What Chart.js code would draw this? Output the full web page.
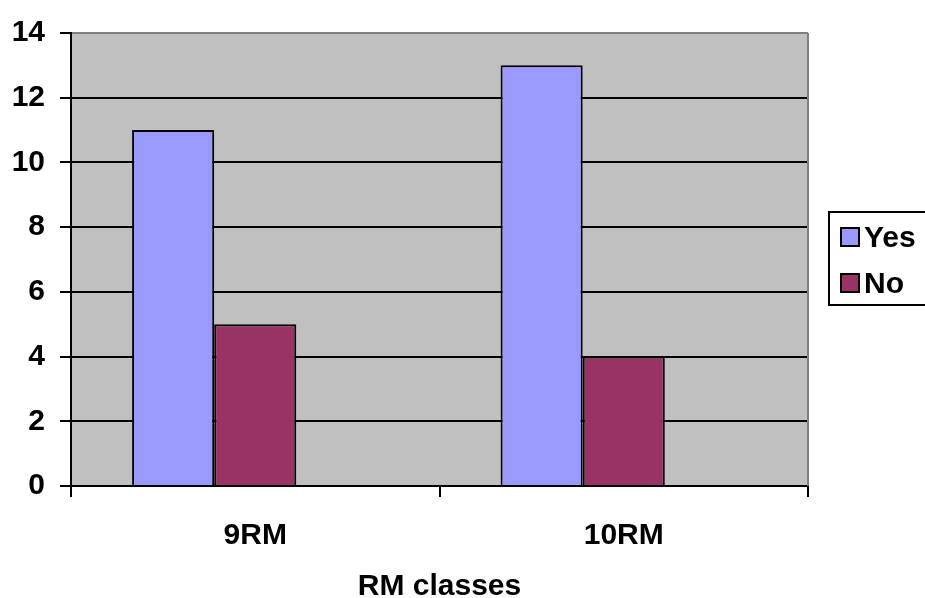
<!DOCTYPE html>
<html>
<head>
<meta charset="utf-8">
<script src="https://cdn.jsdelivr.net/npm/chart.js@4/dist/chart.umd.min.js"></script>
<style>
html,body{margin:0;padding:0;background:#fff;}
#wrap{width:925px;height:598px;position:relative;}
</style>
</head>
<body>
<div id="wrap"><canvas id="c" width="925" height="598"></canvas></div>
<script>
const categories = ["9RM", "10RM"];
const yesValues = [11, 13];
const noValues = [5, 4];
const emptySlot = [null, null];
const seriesNames = ["Yes", "No"];
const axisTitle = "RM classes";
const yTicks = [0, 2, 4, 6, 8, 10, 12, 14];

const FONT = '"Liberation Sans", Arial, sans-serif';

const bgPlugin = {
  id: 'bg',
  beforeDraw(chart) {
    const {ctx, chartArea: a} = chart;
    ctx.save();
    ctx.fillStyle = '#C0C0C0';
    ctx.fillRect(a.left, a.top, a.right - a.left, a.bottom - a.top);
    ctx.restore();
  },
  afterDraw(chart) {
    const {ctx, chartArea: a} = chart;
    ctx.save();
    ctx.strokeStyle = '#808080';
    ctx.lineWidth = 2;
    ctx.beginPath();
    ctx.moveTo(a.right, a.top);
    ctx.lineTo(a.right, a.bottom);
    ctx.stroke();
    // legend
    ctx.fillStyle = '#FFFFFF';
    ctx.strokeStyle = '#000000';
    ctx.lineWidth = 2;
    ctx.fillRect(829, 212, 110, 93);
    ctx.strokeRect(829, 212, 110, 93);
    chart.data.datasets.filter(ds => ds.label).forEach((ds, i) => {
      const y = 227 + i * 46;
      ctx.fillStyle = ds.backgroundColor;
      ctx.fillRect(841, y + 1, 18, 18);
      ctx.strokeRect(841, y + 1, 18, 18);
      ctx.fillStyle = '#000';
      ctx.font = 'bold 30px ' + FONT;
      ctx.textBaseline = 'middle';
      ctx.textAlign = 'left';
      ctx.fillText(ds.label, 864, y + 12);
    });
    ctx.restore();
  }
};

new Chart(document.getElementById('c'), {
  type: 'bar',
  data: {
    labels: categories,
    datasets: [
      { label: seriesNames[0], data: yesValues, backgroundColor: '#9999FF', borderColor: '#000', borderWidth: 2 },
      { label: seriesNames[1], data: noValues, backgroundColor: '#993366', borderColor: '#000', borderWidth: 2 },
      { label: '', data: emptySlot, backgroundColor: 'rgba(0,0,0,0)', borderWidth: 0 }
    ]
  },
  options: {
    responsive: false,
    animation: false,
    devicePixelRatio: 1,
    layout: { padding: { top: 32, right: 117, left: 0, bottom: 0 } },
    plugins: { legend: { display: false }, tooltip: { enabled: false } },
    datasets: { bar: { categoryPercentage: 0.6685, barPercentage: 1.0 } },
    scales: {
      x: {
        offset: true,
        grid: { offset: true, drawOnChartArea: false, color: '#000', lineWidth: 2, tickLength: 11, tickColor: '#000' },
        border: { display: true, color: '#000', width: 2 },
        ticks: { color: '#000', font: { family: FONT, size: 30, weight: 'bold' }, padding: 21, maxRotation: 0 },
        title: { display: true, text: axisTitle, color: '#000', font: { family: FONT, size: 30, weight: 'bold', lineHeight: 0.75 }, padding: { top: 0, bottom: 0 } },
        afterFit(s) { s.height = 112; }
      },
      y: {
        min: 0, max: 14,
        afterBuildTicks(s) { s.ticks = yTicks.map(v => ({ value: v })); },
        grid: {
          color: c => (c.tick && c.tick.value === 14) ? '#808080' : '#000',
          lineWidth: 2, tickLength: 11, tickColor: '#000'
        },
        border: { display: true, color: '#000', width: 2 },
        ticks: { color: '#000', font: { family: FONT, size: 30, weight: 'bold' }, padding: 15 },
        afterFit(s) { s.width = 71; }
      }
    }
  },
  plugins: [bgPlugin]
});
</script>
</body>
</html>
